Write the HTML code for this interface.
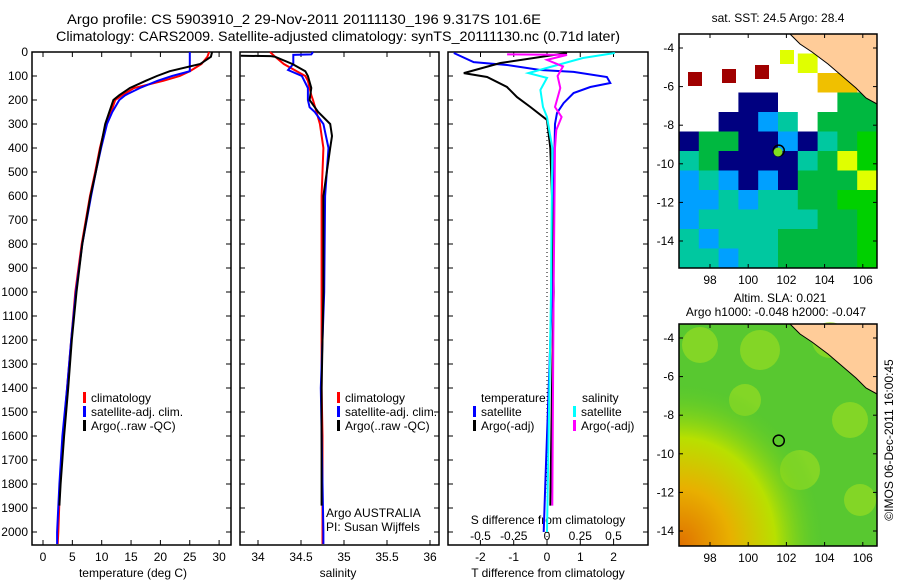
<!DOCTYPE html>
<html><head><meta charset="utf-8"><style>
body{margin:0;background:#fff;}
svg{display:block;font-family:"Liberation Sans",sans-serif;}
text{font-size:12px;fill:#000;}
.ttl{font-size:14px;}
</style></head><body>
<svg id="fig" width="900" height="580" viewBox="0 0 900 580" xmlns="http://www.w3.org/2000/svg">
<text class="ttl" x="67" y="24" textLength="474" lengthAdjust="spacingAndGlyphs">Argo profile: CS 5903910_2 29-Nov-2011 20111130_196 9.317S 101.6E</text>
<text class="ttl" x="56" y="41" textLength="564" lengthAdjust="spacingAndGlyphs">Climatology: CARS2009. Satellite-adjusted climatology: synTS_20111130.nc (0.71d later)</text>
<g id="p1"></g>
<g id="p2"></g>
<g id="p3"></g>
<g id="m1"></g>
<g id="m2"></g>
<text x="0" y="0" transform="translate(893,440) rotate(-90)" text-anchor="middle">©IMOS 06-Dec-2011 16:00:45</text>
</svg>
<script>
// ---- data ----
const depthT = [0,20,50,80,100,120,150,180,200,250,300,400,500,600,800,1000,1200,1400,1600,1800,2000,2050];
const climT = [28.3,28.0,27.0,25.0,23.3,20.5,15.5,13.5,12.3,11.6,10.7,9.7,8.9,8.0,6.6,5.5,4.8,4.1,3.4,2.9,2.6,2.5];
const satT = [25.0,25.0,25.0,25.0,22.0,19.5,16.5,14.0,13.0,11.8,10.9,9.9,9.0,8.2,6.7,5.6,4.8,4.1,3.3,2.8,2.4,2.4];
const argoDepthT = [0,20,50,80,100,120,150,180,200,250,300,400,500,600,800,1000,1200,1400,1600,1800,1890];
const argoT = [28.8,28.6,26.8,21.6,19.4,17.5,14.8,13.0,12.0,11.3,10.6,9.8,9.0,8.1,6.7,5.7,4.9,4.3,3.6,3.0,2.8];
const climS = [34.14,34.2,34.3,34.45,34.55,34.58,34.6,34.62,34.64,34.68,34.72,34.76,34.75,34.74,34.74,34.74,34.74,34.74,34.75,34.75,34.75,34.75];
const satDepthS = [0,10,12,50,75,100,150,200,230,250,300,400,600,1000,1400,2000,2050];
const satS = [34.64,34.62,34.41,34.41,34.35,34.51,34.58,34.58,34.6,34.66,34.76,34.82,34.78,34.77,34.73,34.76,34.76];
const argoDepthS = [16,17,20,50,80,100,150,200,250,300,350,400,600,1000,1400,1890];
const argoS = [33.8,34.15,34.2,34.4,34.55,34.58,34.62,34.6,34.7,34.84,34.86,34.84,34.76,34.76,34.74,34.74];
const argoTDDepth = [4,46,88,104,146,188,229,283,400,600,1000,1400,1890];
const argoTD = [0.6,-1.4,-2.5,-1.8,-1.2,-0.9,-0.5,0,0.1,0.15,0.2,0.15,0.1];
const satTDDepth = [4,42,54,75,83,104,129,146,171,213,254,300,600,1000,1400,1800,2000];
const satTD = [-2.8,-2.2,-1.2,-0.2,0.8,1.8,1.9,1.3,0.8,0.5,0.3,0.24,0.2,0.15,0.05,-0.05,-0.1];
const satSDDepth = [4,25,63,88,108,158,229,271,400,1000,2000];
const satSD = [0.51,0.27,0.02,-0.14,0,-0.05,-0.03,0,0.04,0.03,0.0];
const argoSDDepth = [10,12,33,60,100,150,229,271,325,400,1000,1890];
const argoSD = [-0.3,0.15,0,0.12,0.08,0.1,0.06,0.11,0.07,0.06,0.05,0.04];
const depthTicks = [0,100,200,300,400,500,600,700,800,900,1000,1100,1200,1300,1400,1500,1600,1700,1800,1900,2000];
const tempTicks = [0,5,10,15,20,25,30];
const salTicks = [34,34.5,35,35.5,36];
const tdTicks = [-2,-1,0,1,2];
const sdTicks = [-0.5,-0.25,0,0.25,0.5];
const lonTicks = [98,100,102,104,106];
const latTicks = [-4,-6,-8,-10,-12,-14];
const sstGrid = [
"wwwwwwwLLL","wwwwwwywLL","wwwwwwwooL","wwwddwwwgg","wwddbcwggg","dggddbdcgG",
"cgddddcgyG","bcbdbdgggy","bbcbccggGG","bccccccggG","cbcccggggG","ccbccggggG"];
const argoLon = 101.6, argoLat = -9.317;

const NS="http://www.w3.org/2000/svg";
function el(parent,tag,attrs){const e=document.createElementNS(NS,tag);for(const k in attrs)e.setAttribute(k,attrs[k]);parent.appendChild(e);return e;}
const yD = d => 52 + d*0.24;
const TOP=52, BOT=545;

function frame(g,x0,x1,name){
  const r=el(g,'rect',{x:x0,y:TOP,width:x1-x0,height:BOT-TOP,fill:'none',stroke:'#000','stroke-width':1.5});
  
  
  depthTicks.forEach(d=>{
    el(g,'line',{x1:x0,x2:x0+5,y1:yD(d),y2:yD(d),stroke:'#000'});
    el(g,'line',{x1:x1,x2:x1-5,y1:yD(d),y2:yD(d),stroke:'#000'});
  });
}
function line(g,xf,ds,vs,color,name,w){
  const pts=ds.map((d,i)=>xf(vs[i]).toFixed(1)+','+yD(d).toFixed(1)).join(' ');
  const p=el(g,'polyline',{points:pts,fill:'none',stroke:color,'stroke-width':w||2});
  
  
}
function txt(g,x,y,s,anchor,name){
  const t=el(g,'text',{x:x,y:y,'text-anchor':anchor||'start'});t.textContent=s;
  
  
  return t;
}
function legend(g,x,y,color,s,name){
  el(g,'rect',{x:x,y:y-10,width:3,height:11,fill:color});
  txt(g,x+8,y,s,'start',name);
}
// ---- panel 1 ----
const p1=document.getElementById('p1');
const xT = t => 43 + t*5.87;
frame(p1,32,231,'temperature-plot-frame');
depthTicks.forEach(d=>{txt(p1,28,yD(d)+4,String(d),'end','depth-tick-label');});
tempTicks.forEach(t=>{el(p1,'line',{x1:xT(t),x2:xT(t),y1:BOT,y2:BOT-5,stroke:'#000'});el(p1,'line',{x1:xT(t),x2:xT(t),y1:TOP,y2:TOP+5,stroke:'#000'});txt(p1,xT(t),561,String(t),'middle','temperature-tick-label');});
txt(p1,133,577,'temperature (deg C)','middle','temperature-axis-title');
line(p1,xT,depthT,climT,'#f00','temperature-climatology-line');
line(p1,xT,depthT,satT,'#00f','temperature-satellite-line');
line(p1,xT,argoDepthT,argoT,'#000','temperature-argo-line');
legend(p1,83,402,'#f00','climatology','legend-climatology');
legend(p1,83,416,'#00f','satellite-adj. clim.','legend-satellite');
legend(p1,83,430,'#000','Argo(..raw -QC)','legend-argo');
// ---- panel 2 ----
const p2=document.getElementById('p2');
const xS = s => 258 + (s-34)*86;
frame(p2,240,439,'salinity-plot-frame');
salTicks.forEach(s=>{el(p2,'line',{x1:xS(s),x2:xS(s),y1:BOT,y2:BOT-5,stroke:'#000'});el(p2,'line',{x1:xS(s),x2:xS(s),y1:TOP,y2:TOP+5,stroke:'#000'});txt(p2,xS(s),561,String(s),'middle','salinity-tick-label');});
txt(p2,338,577,'salinity','middle','salinity-axis-title');
line(p2,xS,depthT,climS,'#f00','salinity-climatology-line');
line(p2,xS,satDepthS,satS,'#00f','salinity-satellite-line');
line(p2,xS,argoDepthS,argoS,'#000','salinity-argo-line');
legend(p2,337,402,'#f00','climatology','legend-climatology');
legend(p2,337,416,'#00f','satellite-adj. clim.','legend-satellite');
legend(p2,337,430,'#000','Argo(..raw -QC)','legend-argo');
txt(p2,326,517,'Argo AUSTRALIA','start','argo-country');
txt(p2,326,531,'PI: Susan Wijffels','start','argo-pi');
// ---- panel 3 ----
const p3=document.getElementById('p3');
const xTD = t => 547 + t*33.3;
const xSD = s => 547 + s*133;
frame(p3,448,648,'difference-plot-frame');
el(p3,'line',{x1:547,x2:547,y1:120,y2:BOT,stroke:'#000','stroke-dasharray':'1,3'});
tdTicks.forEach(t=>{el(p3,'line',{x1:xTD(t),x2:xTD(t),y1:BOT,y2:BOT-5,stroke:'#000'});txt(p3,xTD(t),561,String(t),'middle','t-diff-tick-label');});
sdTicks.forEach(s=>{el(p3,'line',{x1:xSD(s),x2:xSD(s),y1:TOP,y2:TOP+5,stroke:'#000'});txt(p3,xSD(s),540,String(s),'middle','s-diff-tick-label');});
txt(p3,548,524,'S difference from climatology','middle','s-diff-axis-title');
txt(p3,548,577,'T difference from climatology','middle','t-diff-axis-title');
line(p3,xTD,satTDDepth,satTD,'#00f','t-diff-satellite-line');
line(p3,xTD,argoTDDepth,argoTD,'#000','t-diff-argo-line');
line(p3,xSD,satSDDepth,satSD,'#0ff','s-diff-satellite-line');
line(p3,xSD,argoSDDepth,argoSD,'#f0f','s-diff-argo-line');
txt(p3,481,402,'temperature','start','legend-temperature-header');
legend(p3,473,416,'#00f','satellite','legend-t-satellite');
legend(p3,473,430,'#000','Argo(-adj)','legend-t-argo');
txt(p3,582,402,'salinity','start','legend-salinity-header');
legend(p3,573,416,'#0ff','satellite','legend-s-satellite');
legend(p3,573,430,'#f0f','Argo(-adj)','legend-s-argo');
// ---- maps ----
function mapAxes(g,top,bot,lat4y,name){
  const X0=679,X1=877;
  const xL = lon => 710 + (lon-98)*19.1;
  const yL = lat => lat4y + (-4-lat)*19.3;
  latTicks.forEach(l=>{el(g,'line',{x1:X0,x2:X0+4,y1:yL(l),y2:yL(l),stroke:'#000'});el(g,'line',{x1:X1,x2:X1-4,y1:yL(l),y2:yL(l),stroke:'#000'});txt(g,674,yL(l)+4,String(l),'end','lat-tick-label');});
  lonTicks.forEach(l=>{el(g,'line',{x1:xL(l),x2:xL(l),y1:bot,y2:bot-4,stroke:'#000'});el(g,'line',{x1:xL(l),x2:xL(l),y1:top,y2:top+4,stroke:'#000'});txt(g,xL(l),bot+16,String(l),'middle','lon-tick-label');});
  const r=el(g,'rect',{x:X0,y:top,width:X1-X0,height:bot-top,fill:'none',stroke:'#000','stroke-width':1.5});
  
  
  const c=el(g,'circle',{cx:xL(argoLon),cy:yL(argoLat),r:5.5,fill:'none',stroke:'#000','stroke-width':1.5});
  
  
}
function land(g,dy){
  const pts=[[790,34],[800,44],[812,52],[828,64],[842,76],[856,88],[866,98],[877,104],[877,34]].map(p=>p[0]+','+(p[1]+dy)).join(' ');
  const p=el(g,'polygon',{points:pts,fill:'#ffcc99',stroke:'#000','stroke-width':1});
  
  
}
const colors={w:'#fff',g:'#00b840',G:'#00d000',c:'#00c8a0',b:'#00a0ff',d:'#000080',y:'#e0ff00',o:'#f0c000',L:'#ffcc99'};
const m1=document.getElementById('m1');
txt(m1,778,22,'sat. SST: 24.5 Argo: 28.4','middle','sst-map-title');
sstGrid.forEach((row,r)=>{[...row].forEach((ch,c)=>{
  el(m1,'rect',{x:679+c*19.8,y:34+r*19.5,width:20.3,height:20,fill:colors[ch]});
});});
land(m1,0);
[[688,72],[722,69],[755,65]].forEach(p=>el(m1,'rect',{x:p[0],y:p[1],width:14,height:14,fill:'#a00000'}));
el(m1,'rect',{x:780,y:50,width:14,height:14,fill:'#e0ff00'});
mapAxes(m1,34,268,48,'sst-map-frame');
el(m1,'circle',{cx:778,cy:152,r:4.5,fill:'#80e020'});
const m2=document.getElementById('m2');
txt(m2,780,302,'Altim. SLA: 0.021','middle','sla-map-title');
txt(m2,776,316,'Argo h1000: -0.048 h2000: -0.047','middle','sla-map-subtitle');
const defs=el(m2,'defs',{});
const rg=el(defs,'radialGradient',{id:'sw',cx:'0',cy:'1',r:'0.75'});
el(rg,'stop',{offset:'0','stop-color':'#e07000'});
el(rg,'stop',{offset:'0.35','stop-color':'#e8b000'});
el(rg,'stop',{offset:'0.65','stop-color':'#b8e000'});
el(rg,'stop',{offset:'1','stop-color':'#50c830','stop-opacity':'0'});
el(m2,'rect',{x:679,y:324,width:198,height:222,fill:'#58c830'});
[[700,345,18],[760,350,20],[830,340,18],[745,400,16],[850,420,18],[800,470,20],[860,500,16]].forEach(p=>el(m2,'circle',{cx:p[0],cy:p[1],r:p[2],fill:'#a0e020','opacity':0.6}));
el(m2,'rect',{x:679,y:324,width:198,height:222,fill:'url(#sw)'});
land(m2,290);
mapAxes(m2,324,546,338,'sla-map-frame');
</script>
</body></html>
